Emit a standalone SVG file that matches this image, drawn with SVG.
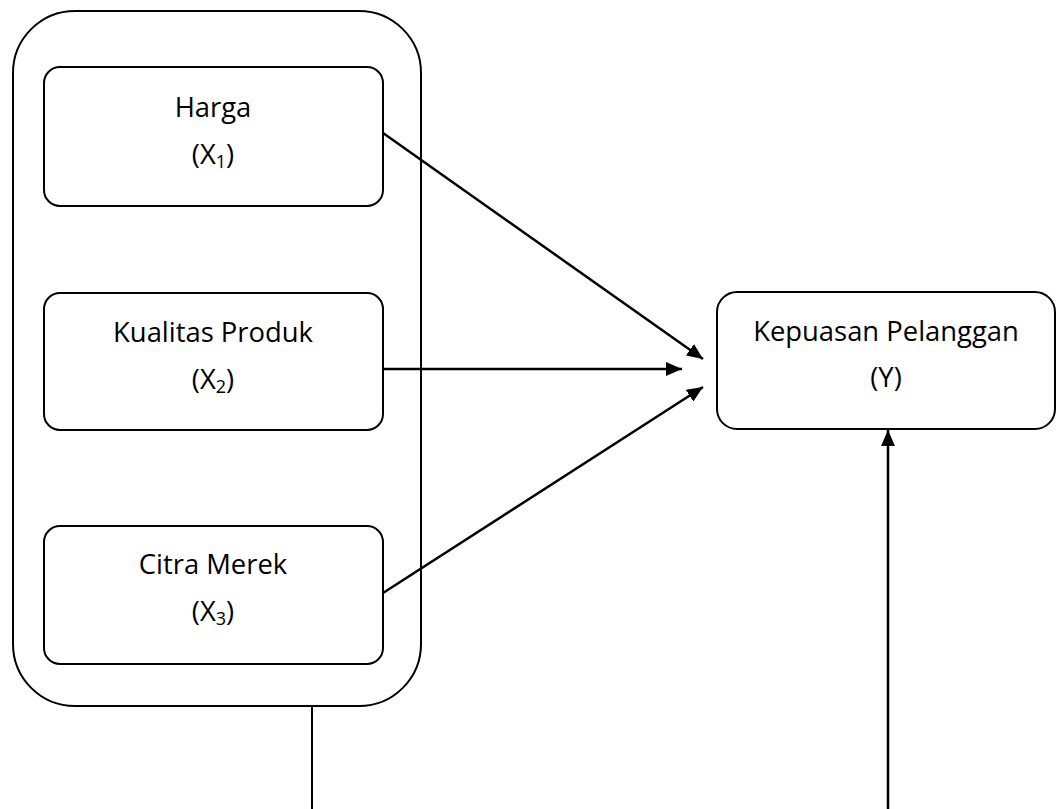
<svg xmlns="http://www.w3.org/2000/svg" width="1056" height="809" viewBox="0 0 1056 809">
<style>
.box{fill:#fff;stroke:#000;stroke-width:2}
.lbl{font-family:"Open Sans","Liberation Sans",sans-serif;font-size:27.4px;fill:#000;text-anchor:middle}
.sub{font-size:18px}
.con{stroke:#000;stroke-width:2.5;fill:none}
</style>
<defs>
<marker id="ah" markerUnits="userSpaceOnUse" markerWidth="16" markerHeight="14" refX="16" refY="7" orient="auto">
<path d="M0,0 L16,7 L0,14 Z" fill="#000"/>
</marker>
</defs>
<rect width="1056" height="809" fill="#fff"/>
<g id="group-x">
<rect class="box" x="13" y="11" width="408" height="695" rx="62" ry="62"/>
</g>
<g id="harga">
<rect class="box" x="44" y="67" width="339" height="139" rx="16" ry="16"/>
<text class="lbl" x="213" y="117">Harga</text>
<text class="lbl" x="213" y="164">(X<tspan class="sub" dy="4">1</tspan><tspan dy="-4">)</tspan></text>
</g>
<g id="kualitas">
<rect class="box" x="44" y="293" width="339" height="137" rx="16" ry="16"/>
<text class="lbl" x="213" y="342">Kualitas Produk</text>
<text class="lbl" x="213" y="389">(X<tspan class="sub" dy="4">2</tspan><tspan dy="-4">)</tspan></text>
</g>
<g id="citra">
<rect class="box" x="44" y="526" width="339" height="138" rx="16" ry="16"/>
<text class="lbl" x="213" y="574">Citra Merek</text>
<text class="lbl" x="213" y="621">(X<tspan class="sub" dy="4">3</tspan><tspan dy="-4">)</tspan></text>
</g>
<g id="kepuasan">
<rect class="box" x="717" y="292" width="338" height="137" rx="20" ry="20"/>
<text class="lbl" x="886" y="341">Kepuasan Pelanggan</text>
<text class="lbl" x="886" y="387">(Y)</text>
</g>
<g id="connectors">
<line class="con" x1="383" y1="133" x2="703" y2="359" marker-end="url(#ah)"/>
<line class="con" x1="383" y1="369" x2="682" y2="369" marker-end="url(#ah)"/>
<line class="con" x1="383" y1="593" x2="703" y2="387" marker-end="url(#ah)"/>
<line class="con" x1="312" y1="706" x2="312" y2="809" style="stroke-width:2"/>
<line class="con" x1="888" y1="809" x2="888" y2="430" marker-end="url(#ah)"/>
</g>
</svg>
